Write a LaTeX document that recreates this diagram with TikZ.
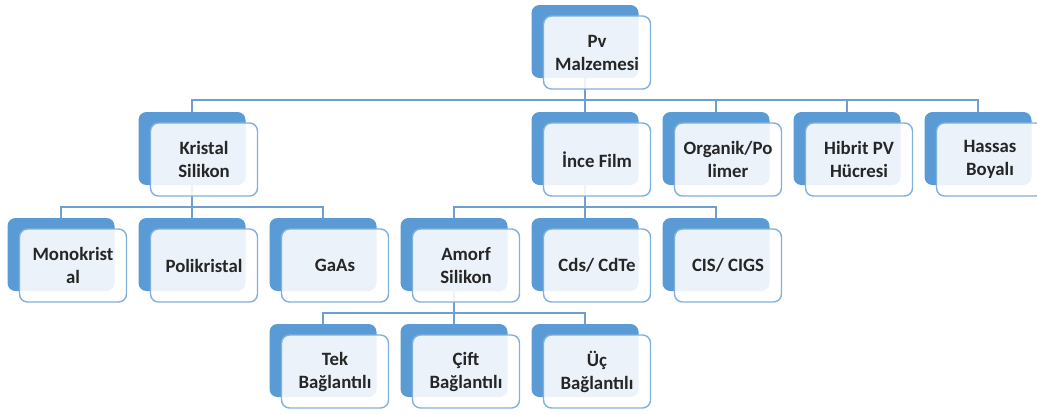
\documentclass[tikz,border=0pt]{standalone}
\usepackage{fontspec}
\setmainfont{Carlito}
\usetikzlibrary{shadows,backgrounds}
\definecolor{panelblue}{RGB}{91,155,213}
\definecolor{rimblue}{RGB}{128,176,222}
\definecolor{busblue}{RGB}{108,160,212}

\begin{document}
\begin{tikzpicture}[x=0.5pt,y=-0.5pt]
\useasboundingbox (0,0) rectangle (1037,414);
\tikzset{box/.style = {shape=rectangle,rounded corners=4pt,draw=rimblue,line width=0.7pt,
  fill=white,fill opacity=0.88,text opacity=1,minimum width=53.5pt,minimum height=36.5pt,
  align=center,text=black!85,font=\fontsize{9.4}{11.5}\selectfont\bfseries,
  copy shadow={shadow xshift=-6pt,shadow yshift=5.5pt,fill=panelblue,draw=none,fill opacity=1}}}
% vertices
\node[box] (pv) at (597,52.5) {Pv\\Malzemesi};
\node[box] (kristal) at (204,159.5) {Kristal\\Silikon};
\node[box] (ince) at (597,159.5) {İnce Film};
\node[box] (organik) at (728,159.5) {Organik/Po\\limer};
\node[box] (hibrit) at (859,159.5) {Hibrit PV\\Hücresi};
\node[box] (hassas) at (990,159.5) {Hassas\\Boyalı};
\node[box] (mono) at (73,265.5) {Monokrist\\al};
\node[box] (poli) at (204,265.5) {Polikristal};
\node[box] (gaas) at (335,265.5) {GaAs};
\node[box] (amorf) at (466,265.5) {Amorf\\Silikon};
\node[box] (cds) at (597,265.5) {Cds/ CdTe};
\node[box] (cis) at (728,265.5) {CIS/ CIGS};
\node[box] (tek) at (335,371.5) {Tek\\Bağlantılı};
\node[box] (cift) at (466,371.5) {Çift\\Bağlantılı};
\node[box] (uc) at (597,371.5) {Üç\\Bağlantılı};
%edges
\tikzset{edge/.style = {draw=busblue,line width=0.75pt}}
\begin{scope}[on background layer]
\draw[edge] ([xshift=-6pt]pv.center) -- ++(0,47.5) -| ([xshift=-6pt]kristal.center);
\draw[edge] ([xshift=-6pt]pv.center) -- ++(0,47.5) -| ([xshift=-6pt]ince.center);
\draw[edge] ([xshift=-6pt]pv.center) -- ++(0,47.5) -| ([xshift=-6pt]organik.center);
\draw[edge] ([xshift=-6pt]pv.center) -- ++(0,47.5) -| ([xshift=-6pt]hibrit.center);
\draw[edge] ([xshift=-6pt]pv.center) -- ++(0,47.5) -| ([xshift=-6pt]hassas.center);

\draw[edge] ([xshift=-6pt]kristal.center) -- ++(0,47.5) -| ([xshift=-6pt]mono.center);
\draw[edge] ([xshift=-6pt]kristal.center) -- ++(0,47.5) -| ([xshift=-6pt]poli.center);
\draw[edge] ([xshift=-6pt]kristal.center) -- ++(0,47.5) -| ([xshift=-6pt]gaas.center);

\draw[edge] ([xshift=-6pt]ince.center) -- ++(0,47.5) -| ([xshift=-6pt]amorf.center);
\draw[edge] ([xshift=-6pt]ince.center) -- ++(0,47.5) -| ([xshift=-6pt]cds.center);
\draw[edge] ([xshift=-6pt]ince.center) -- ++(0,47.5) -| ([xshift=-6pt]cis.center);

\draw[edge] ([xshift=-6pt]amorf.center) -- ++(0,47.5) -| ([xshift=-6pt]tek.center);
\draw[edge] ([xshift=-6pt]amorf.center) -- ++(0,47.5) -| ([xshift=-6pt]cift.center);
\draw[edge] ([xshift=-6pt]amorf.center) -- ++(0,47.5) -| ([xshift=-6pt]uc.center);
\end{scope}

\end{tikzpicture}
\end{document}
